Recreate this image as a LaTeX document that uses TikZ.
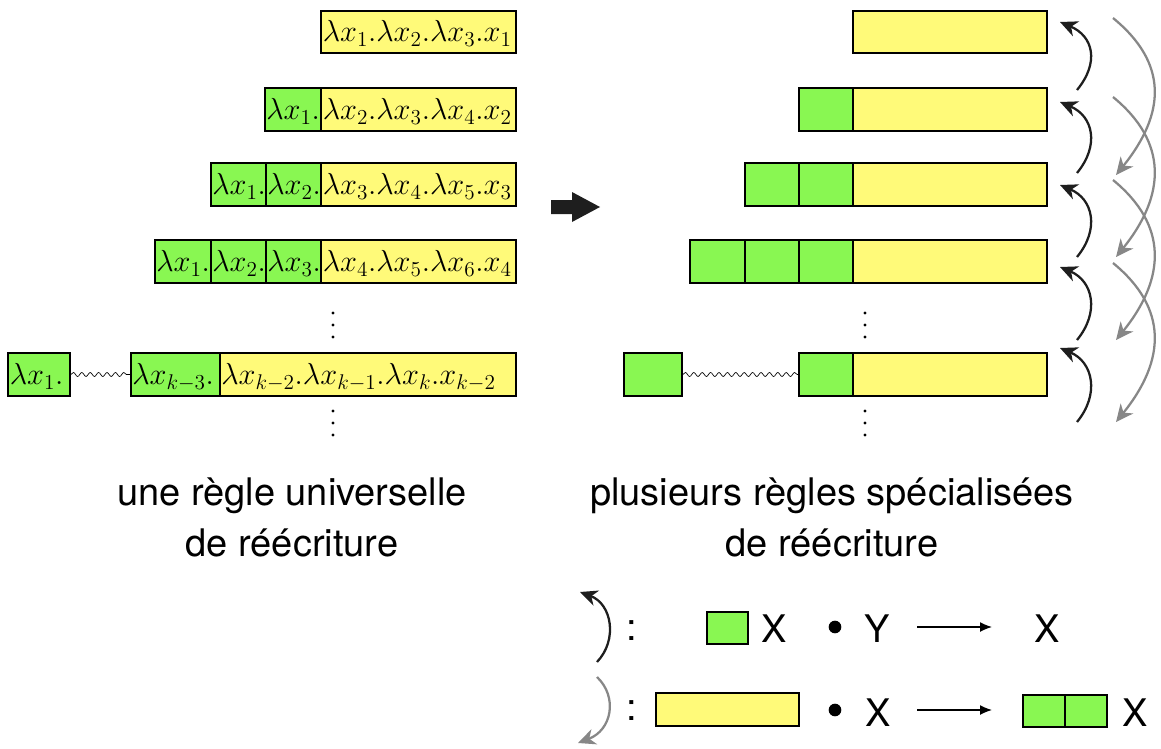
\RequirePackage{fix-cm}
\documentclass[tikz,border=0pt]{standalone}
\usepackage{fontspec}
\setsansfont{TeX Gyre Heros}
\usetikzlibrary{arrows.meta,decorations.pathmorphing,fit}
\definecolor{boxgreen}{RGB}{137,247,82}
\definecolor{boxyellow}{RGB}{255,250,121}
\definecolor{darkarrow}{RGB}{30,30,30}
\definecolor{lightarrow}{RGB}{135,135,135}
\begin{document}
\begin{tikzpicture}[x=0.75pt,y=-0.75pt,
  gcell/.style={draw=black,line width=1.2pt,inner sep=0pt,fill=boxgreen},
  ycell/.style={draw=black,line width=1.2pt,inner sep=0pt,fill=boxyellow},
  lam/.style={inner sep=0pt,anchor=base west,font=\fontsize{22.8}{27}\selectfont},
  captxt/.style={inner sep=0pt,anchor=base,font=\sffamily\fontsize{28.5}{36}\selectfont},
  vdot/.style={circle,fill=black,inner sep=0pt,minimum size=2.6pt},
  wavy/.style={line width=0.5pt,decorate,decoration={snake,amplitude=1.5pt,segment length=6.3pt}},
  upar/.style={draw=darkarrow,line width=1.7pt,-{Stealth[length=13pt,width=12pt,inset=4pt]}},
  downar/.style={draw=lightarrow,line width=1.7pt,-{Stealth[length=13pt,width=12pt,inset=4pt]}},
  bullet/.style={circle,fill=black,inner sep=0pt,minimum size=9.5pt},
  mapar/.style={line width=1pt,-{Latex[length=9pt,width=7.5pt]}}
]
\useasboundingbox (0,0) rectangle (1161,749);

% ---------------- left column ----------------
% row 1
\node[ycell,fit={(321,11) (516,53)}] (l1y) {};
\node[lam] (l1t) at (322.5,42) {$\lambda x_1.\lambda x_2.\lambda x_3.x_1$};
% row 2
\node[gcell,fit={(265,88) (321,131)}] (l2g1) {};
\node[ycell,fit={(321,88) (516,131)}] (l2y) {};
\node[lam] (l2a) at (266,119.5) {$\lambda x_1.$};
\node[lam] (l2t) at (322.5,119.5) {$\lambda x_2.\lambda x_3.\lambda x_4.x_2$};
% row 3
\node[gcell,fit={(211,163) (266,206)}] (l3g1) {};
\node[gcell,fit={(266,163) (321,206)}] (l3g2) {};
\node[ycell,fit={(321,163) (516,206)}] (l3y) {};
\node[lam] (l3a) at (212,194.5) {$\lambda x_1.$};
\node[lam] (l3b) at (267,194.5) {$\lambda x_2.$};
\node[lam] (l3t) at (322.5,194.5) {$\lambda x_3.\lambda x_4.\lambda x_5.x_3$};
% row 4
\node[gcell,fit={(155,240) (211,283)}] (l4g1) {};
\node[gcell,fit={(211,240) (266,283)}] (l4g2) {};
\node[gcell,fit={(266,240) (321,283)}] (l4g3) {};
\node[ycell,fit={(321,240) (516,283)}] (l4y) {};
\node[lam] (l4a) at (156,271.5) {$\lambda x_1.$};
\node[lam] (l4b) at (212,271.5) {$\lambda x_2.$};
\node[lam] (l4c) at (267,271.5) {$\lambda x_3.$};
\node[lam] (l4t) at (322.5,271.5) {$\lambda x_4.\lambda x_5.\lambda x_6.x_4$};
% dots
\node[vdot] (ld1) at (333,313) {};
\node[vdot] (ld2) at (333,325) {};
\node[vdot] (ld3) at (333,337) {};
% row 5
\node[gcell,fit={(8,353) (70,396)}] (l5g1) {};
\node[gcell,fit={(131,353) (220,396)}] (l5g2) {};
\node[ycell,fit={(220,353) (516,396)}] (l5y) {};
\draw[wavy] (l5g1.east) -- (l5g2.west);
\node[lam] (l5a) at (9.5,384.5) {$\lambda x_1.$};
\node[lam] (l5b) at (132,384.5) {$\lambda x_{k-3}.$};
\node[lam] (l5t) at (221,384.5) {$\lambda x_{k-2}.\lambda x_{k-1}.\lambda x_k.x_{k-2}$};
\node[vdot] (le1) at (333,411) {};
\node[vdot] (le2) at (333,423) {};
\node[vdot] (le3) at (333,435) {};

% ---------------- big arrow ----------------
\fill[darkarrow] (551,200) -- (572,200) -- (572,192) -- (600,207) -- (572,222) -- (572,214) -- (551,214) -- cycle;

% ---------------- right column ----------------
\node[ycell,fit={(853,11) (1047,53)}] (r1y) {};
\node[gcell,fit={(799,88) (853,131)}] (r2g1) {};
\node[ycell,fit={(853,88) (1047,131)}] (r2y) {};
\node[gcell,fit={(745,163) (799,206)}] (r3g1) {};
\node[gcell,fit={(799,163) (853,206)}] (r3g2) {};
\node[ycell,fit={(853,163) (1047,206)}] (r3y) {};
\node[gcell,fit={(690,240) (745,283)}] (r4g1) {};
\node[gcell,fit={(745,240) (799,283)}] (r4g2) {};
\node[gcell,fit={(799,240) (853,283)}] (r4g3) {};
\node[ycell,fit={(853,240) (1047,283)}] (r4y) {};
\node[vdot] (rd1) at (865,313) {};
\node[vdot] (rd2) at (865,325) {};
\node[vdot] (rd3) at (865,337) {};
\node[gcell,fit={(624,353) (682,396)}] (r5g1) {};
\node[gcell,fit={(799,353) (853,396)}] (r5g2) {};
\node[ycell,fit={(853,353) (1047,396)}] (r5y) {};
\draw[wavy] (r5g1.east) -- (r5g2.west);
\node[vdot] (re1) at (865,411) {};
\node[vdot] (re2) at (865,423) {};
\node[vdot] (re3) at (865,435) {};

% curved arrows (black, upward)
\foreach \yt/\yh [count=\i] in {90/22,173/102,257/185,340/267,422/348}{
  \coordinate (bt\i) at (1077,\yt);
  \coordinate (bh\i) at (1060,\yh);
  \draw[upar] (bt\i) .. controls (1100,\yt-28) and (1093,\yh+14) .. (bh\i);
}
% curved arrows (grey, downward)
\foreach \ys/\ye [count=\i] in {18/175,97/257,180/340,263/422}{
  \coordinate (gs\i) at (1113,\ys);
  \coordinate (ge\i) at (1116,\ye);
  \draw[downar] (gs\i) .. controls (1168,\ys+45) and (1166,\ye-62) .. (ge\i);
}

% ---------------- captions ----------------
\node[captxt] (c1a) at (292,505) {une règle universelle};
\node[captxt] (c1b) at (292,556) {de réécriture};
\node[captxt] (c2a) at (832,505) {plusieurs règles spécialisées};
\node[captxt] (c2b) at (832,556) {de réécriture};

% ---------------- legend ----------------
\coordinate (k1t) at (597,662);
\coordinate (k1h) at (580,592);
\draw[upar] (k1t) .. controls (618,640) and (612,604) .. (k1h);
\node[captxt] (col1) at (632,640) {:};
\node[gcell,fit={(707,612) (748,644)}] (kg) {};
\node[captxt] (kx1) at (774,642) {X};
\node[bullet] (kb1) at (835,627) {};
\node[captxt] (ky1) at (877,642) {Y};
\coordinate (ka1s) at (917,627);
\coordinate (ka1e) at (992,627);
\draw[mapar] (ka1s) -- (ka1e);
\node[captxt] (kx2) at (1047,642) {X};

\coordinate (k2s) at (597,677);
\coordinate (k2e) at (578,743);
\draw[downar] (k2s) .. controls (618,697) and (612,730) .. (k2e);
\node[captxt] (col2) at (632,720) {:};
\node[ycell,fit={(656,693) (799,726)}] (ky) {};
\node[bullet] (kb2) at (835,710) {};
\node[captxt] (kx3) at (878,726) {X};
\coordinate (ka2s) at (917,710);
\coordinate (ka2e) at (992,710);
\draw[mapar] (ka2s) -- (ka2e);
\node[gcell,fit={(1023,695) (1065,727)}] (kg2a) {};
\node[gcell,fit={(1065,695) (1107,727)}] (kg2b) {};
\node[captxt] (kx4) at (1135,726) {X};
\end{tikzpicture}
\end{document}
